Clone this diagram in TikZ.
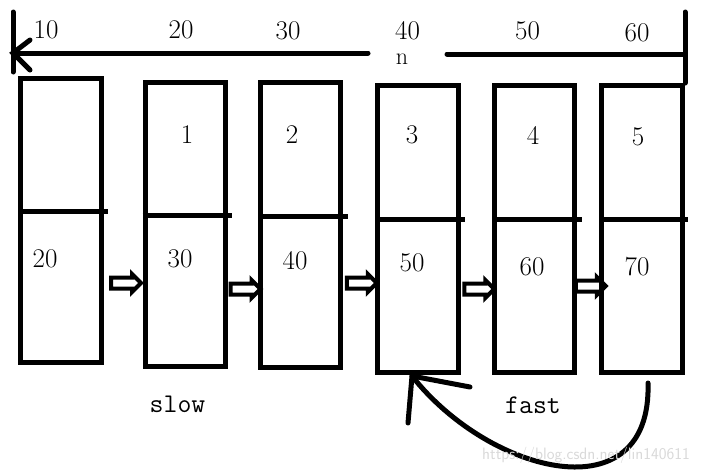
\documentclass[tikz,border=0pt]{standalone}
\usetikzlibrary{shapes.arrows}
\begin{document}
\begin{tikzpicture}[x=1pt,y=1pt,
        cell/.style={draw, line width=5pt, rectangle, minimum width=80pt, minimum height=285pt, inner sep=0pt},
        hop/.style={single arrow, draw, line width=4pt, minimum height=30pt, inner sep=3.5pt, single arrow head extend=3.5pt},
        pen/.style={line width=5pt, line cap=round},
        bar/.style={line width=5pt},
        num/.style={font=\fontsize{27}{30}\selectfont},
        word/.style={font=\fontsize{27}{30}\selectfont\ttfamily}]
        \useasboundingbox (0,0) rectangle (701,-474);

        \node[cell, minimum width=81pt, minimum height=284pt] (N_0) at (61,-220.5) {};
        \node[cell, minimum height=284pt] (N_1) at (185,-224.5) {};
        \node[cell] (N_2) at (300.5,-225.25) {};
        \node[cell, minimum width=81pt, minimum height=286.5pt] (N_3) at (418,-228.75) {};
        \node[cell, minimum height=286.5pt] (N_4) at (534.5,-228.75) {};
        \node[cell, minimum width=81pt, minimum height=286.5pt] (N_5) at (642,-228.75) {};

        \draw[bar] (N_0.west |- 0,-211) -- (108,-211);
        \draw[bar] (N_1.west |- 0,-215.5) -- (232,-215.5);
        \draw[bar] (N_2.west |- 0,-216) -- (348,-216);
        \draw[bar] (N_3.west |- 0,-219) -- (465,-219);
        \draw[bar] (N_4.west |- 0,-219) -- (582,-219);
        \draw[bar] (N_5.west |- 0,-219) -- (688,-219);

        \node[num] (K_1) at (187,-135) {1};
        \node[num] (K_2) at (292,-135) {2};
        \node[num] (K_3) at (412,-135) {3};
        \node[num] (K_4) at (533,-135) {4};
        \node[num] (K_5) at (638,-137) {5};

        \node[num] (V_0) at (45,-259) {20};
        \node[num] (V_1) at (180,-259) {30};
        \node[num] (V_2) at (295,-261) {40};
        \node[num] (V_3) at (412,-262.5) {50};
        \node[num] (V_4) at (532,-267) {60};
        \node[num] (V_5) at (637,-267) {70};

        \path (N_0.east |- 0,-283) -- node[hop] (H_01) {} (N_1.west |- 0,-283);
        \path (N_1.east |- 0,-289) -- node[hop] (H_12) {} (N_2.west |- 0,-289);
        \path (N_2.east |- 0,-283) -- node[hop] (H_23) {} (N_3.west |- 0,-283);
        \path (N_3.east |- 0,-289) -- node[hop] (H_34) {} (N_4.west |- 0,-289);
        \path (N_4.east |- 0,-286) -- node[hop] (H_45) {} (N_5.west |- 0,-286);

        % index line on top
        \node[num] (I_1) at (46,-30) {10};
        \node[num] (I_2) at (181,-30) {20};
        \node[num] (I_3) at (288,-31) {30};
        \node[num] (I_4) at (407.5,-31) {40};
        \node[num] (I_5) at (527.5,-31) {50};
        \node[num] (I_6) at (637,-33) {60};
        \node[num, font=\fontsize{24}{28}\selectfont] (n) at (402,-59) {n};

        \coordinate (top) at (N_5.north east |- 0,-12);
        \coordinate (back) at (13,-53);
        \draw[pen] (N_5.north east) -- (top);
        \draw[pen] (N_5.north east |- 0,-54) -- (447,-54);
        \draw[pen] (368,-53) -- (back);
        \draw[pen] (back |- 0,-12) -- (back |- 0,-72);
        \draw[pen] (30,-40) -- (back) -- (30,-70);

        \node[word] (slow) at (177.5,-404) {slow};
        \node[word] (fast) at (533,-405) {fast};

        % fast goes back round
        \coordinate (from) at (648,-383);
        \coordinate (tip) at (412,-376);
        \draw[pen] (from) .. controls (652,-515) and (490,-475) .. (tip);
        \draw[pen] (470,-387) -- (tip) -- (408,-423);

        \node[text=gray!30, font=\sffamily\fontsize{16.5}{18}\selectfont] (mark) at (586,-455) {https://blog.csdn.net/lin140611};
    \end{tikzpicture}
\end{document}
